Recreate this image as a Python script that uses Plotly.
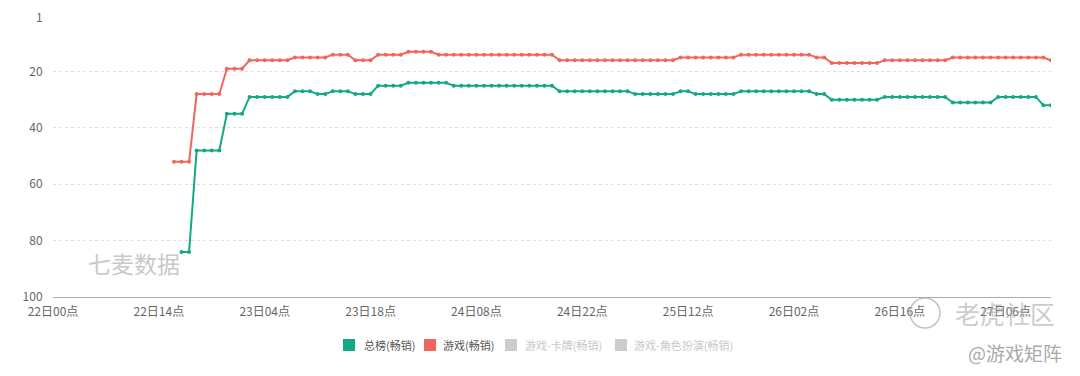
import plotly.graph_objects as go

# ---- data ----
days = ["22", "23", "24", "25", "26", "27"]
hours_per_day = 24
n_points = 133  # 22日00点 .. 27日12点
categories = []
for d in days:
    for h in range(hours_per_day):
        categories.append(f"{d}日{h:02d}点")
categories = categories[:n_points]

tick_labels = ["22日00点", "22日14点", "23日04点", "23日18点", "24日08点",
               "24日22点", "25日12点", "26日02点", "26日16点", "27日06点"]

# rank per hour (None = not ranked)
rank_total = ([None] * 17 +
              [84] * 2 + [48] * 4 + [35] * 3 + [29] * 6 + [27] * 3 + [28] * 2 +
              [27] * 3 + [28] * 3 + [25] * 4 + [24] * 6 + [25] * 14 + [27] * 10 +
              [28] * 6 + [27] * 2 + [28] * 6 + [27] * 10 + [28] * 2 + [30] * 7 +
              [29] * 9 + [31] * 6 + [29] * 6 + [32] * 2)
rank_game = ([None] * 16 +
             [52] * 3 + [28] * 4 + [19] * 3 + [16] * 6 + [15] * 5 + [14] * 3 +
             [16] * 3 + [14] * 4 + [13] * 4 + [14] * 16 + [16] * 16 + [15] * 8 +
             [14] * 10 + [15] * 2 + [17] * 7 + [16] * 9 + [15] * 13 + [16] * 1)

series_names = ["总榜(畅销)", "游戏(畅销)", "游戏-卡牌(畅销)", "游戏-角色扮演(畅销)"]
series_colors = ["#14a884", "#f1665c", "#cccccc", "#cccccc"]
legend_text_colors = ["#555555", "#555555", "#c8c8c8", "#c8c8c8"]
# legend layout (pixel positions of icon centers / text starts)
legend_icon_x = [349, 430, 511, 621]
legend_text_x = [362, 441, 523, 632]
legend_y = 345

y_ticks = [1, 20, 40, 60, 80, 100]

FONT = "Noto Sans CJK SC, Microsoft YaHei, sans-serif"
W, H = 1080, 376
ML, MR, MT, MB = 53, 29, 18, 79
PW, PH = W - ML - MR, H - MT - MB


def px(x):
    return (x - ML) / PW


def py(y):
    return (H - MB - y) / PH


fig = go.Figure()

for name, vals, color in zip(series_names[:2], [rank_total, rank_game], series_colors[:2]):
    fig.add_trace(go.Scatter(
        x=categories, y=vals, mode="lines+markers", name=name,
        line=dict(color=color, width=2),
        marker=dict(color=color, size=4),
        showlegend=False, connectgaps=False,
    ))

fig.update_layout(
    width=W, height=H,
    margin=dict(l=ML, r=MR, t=MT, b=MB, autoexpand=False),
    paper_bgcolor="white", plot_bgcolor="white",
    font=dict(family=FONT, size=12, color="#666666"),
    showlegend=False,
    xaxis=dict(
        type="category", categoryorder="array", categoryarray=categories,
        range=[0, n_points - 1],
        tickmode="array", tickvals=tick_labels, ticktext=tick_labels,
        showgrid=False, showline=True, linecolor="#aaaaaa", linewidth=1,
        ticks="outside", ticklen=4, tickcolor="rgba(0,0,0,0)",
        tickfont=dict(size=12, color="#666666"), zeroline=False,
    ),
    yaxis=dict(
        range=[100, 1], tickmode="array", tickvals=y_ticks,
        showgrid=True, gridcolor="#dddddd", griddash="dot", gridwidth=1,
        zeroline=False, showline=False,
        ticks="outside", ticklen=7, tickcolor="rgba(0,0,0,0)",
        tickfont=dict(size=12, color="#666666"),
    ),
)

# manual legend with square icons
for name, color, tcol, ix, tx in zip(series_names, series_colors, legend_text_colors,
                                     legend_icon_x, legend_text_x):
    fig.add_shape(type="rect", xref="paper", yref="paper",
                  x0=px(ix - 6), x1=px(ix + 6), y0=py(legend_y + 6), y1=py(legend_y - 6),
                  fillcolor=color, line=dict(width=0))
    fig.add_annotation(text=name, xref="paper", yref="paper",
                       x=px(tx), y=py(legend_y), xanchor="left", yanchor="middle",
                       showarrow=False, font=dict(size=11, color=tcol, family=FONT))

# watermarks
fig.add_annotation(text="七麦数据", xref="paper", yref="paper",
                   x=px(86), y=py(263), xanchor="left", yanchor="middle",
                   showarrow=False, font=dict(size=23, color="#c9c9c9", family=FONT))
fig.add_annotation(text="老虎社区", xref="paper", yref="paper",
                   x=px(953), y=py(313), xanchor="left", yanchor="middle",
                   showarrow=False, font=dict(size=25, color="rgba(170,170,170,0.6)", family=FONT))
fig.add_annotation(text="@游戏矩阵", xref="paper", yref="paper",
                   x=px(1064), y=py(352), xanchor="right", yanchor="middle",
                   showarrow=False, font=dict(size=19, color="#aaaaaa", family=FONT))
fig.add_shape(type="circle", xref="paper", yref="paper",
              x0=px(910), x1=px(940), y0=py(328), y1=py(298),
              line=dict(color="rgba(170,170,170,0.7)", width=1.5))

fig.write_html("out.html", config={"displayModeBar": False},
               post_script="document.body.style.margin='0';document.body.style.padding='0';")
